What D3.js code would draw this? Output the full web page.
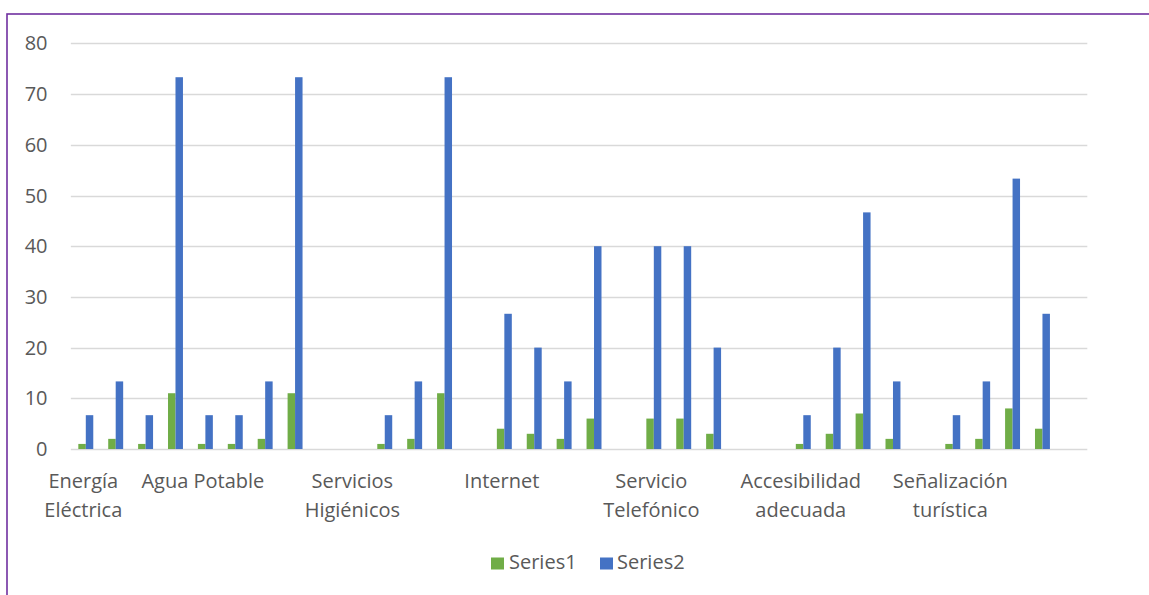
<!DOCTYPE html>
<html>
<head>
<meta charset="utf-8">
<script src="https://cdn.jsdelivr.net/npm/d3@7"></script>
<style>
  html, body { margin: 0; padding: 0; background: #fff; }
  svg { display: block; }
  text { font-family: "Open Sans", "Liberation Sans", sans-serif; }
</style>
</head>
<body>
<svg id="chart" width="1149" height="595"></svg>
<script>
// ---- data ----
// one label per group of slots; "" = unlabeled slot, "\n" = line break
const categories = [
  "Energía\nEléctrica", "", "", "",
  "Agua Potable", "", "", "", "",
  "Servicios\nHigiénicos", "", "", "", "",
  "Internet", "", "", "", "",
  "Servicio\nTelefónico", "", "", "", "",
  "Accesibilidad\nadecuada", "", "", "", "",
  "Señalización\nturística", "", "", "", ""
];
const series1 = [1, 2, 1, 11, 1, 1, 2, 11, null, null, 1, 2, 11, null, 4, 3, 2, 6, null, 6, 6, 3, null, null, 1, 3, 7, 2, null, 1, 2, 8, 4, null];
const series2 = [6.67, 13.33, 6.67, 73.33, 6.67, 6.67, 13.33, 73.33, null, null, 6.67, 13.33, 73.33, null, 26.67, 20, 13.33, 40, null, 40, 40, 20, null, null, 6.67, 20, 46.67, 13.33, null, 6.67, 13.33, 53.33, 26.67, null];
const seriesNames = ["Series1", "Series2"];
const yTicks = [0, 10, 20, 30, 40, 50, 60, 70, 80];

// ---- styles ----
const colors = ["#70AD47", "#4472C4"];
const textColor = "#595959";
const gridColor = "#D9D9D9";

const svg = d3.select("#chart");

// chart frame (purple border, top and left visible)
svg.append("rect")
  .attr("x", 7).attr("y", 14)
  .attr("width", 1200).attr("height", 700)
  .attr("fill", "none")
  .attr("stroke", "#7030A0")
  .attr("stroke-width", 1.6);

const x = d3.scaleBand()
  .domain(d3.range(categories.length))
  .range([70.85, 1087.3])
  .paddingInner(0).paddingOuter(0);

const y = d3.scaleLinear().domain([0, 80]).range([449, 43.4]);

// gridlines
svg.append("g")
  .selectAll("line")
  .data(yTicks)
  .join("line")
  .attr("x1", x.range()[0]).attr("x2", x.range()[1])
  .attr("y1", d => Math.round(y(d)) + 0.5)
  .attr("y2", d => Math.round(y(d)) + 0.5)
  .attr("stroke", gridColor)
  .attr("stroke-width", 1.3);

// y axis labels
svg.append("g")
  .selectAll("text")
  .data(yTicks)
  .join("text")
  .attr("x", 47.5)
  .attr("y", d => y(d) + 7)
  .attr("text-anchor", "end")
  .attr("font-size", 20)
  .attr("fill", textColor)
  .text(d => d);

// bars
const bw = x.bandwidth();
const allSeries = [series1, series2];
allSeries.forEach((vals, si) => {
  svg.append("g")
    .selectAll("rect")
    .data(vals.map((v, i) => ({ v, i })).filter(d => d.v !== null))
    .join("rect")
    .attr("x", d => x(d.i) + bw * 0.25 + si * bw * 0.25)
    .attr("width", bw * 0.25)
    .attr("y", d => y(d.v))
    .attr("height", d => y(0) - y(d.v))
    .attr("fill", colors[si]);
});

// category labels
const labelG = svg.append("g");
categories.forEach((c, i) => {
  if (!c) return;
  const lines = c.split("\n");
  const t = labelG.append("text")
    .attr("text-anchor", "middle")
    .attr("font-size", 20)
    .attr("fill", textColor);
  lines.forEach((ln, k) => {
    t.append("tspan")
      .attr("x", x(i) + bw / 2 - 2.5)
      .attr("y", 487.5 + k * 29.4)
      .text(ln);
  });
});

// legend
const legendItems = [
  { name: seriesNames[0], color: colors[0], sx: 491, tx: 509 },
  { name: seriesNames[1], color: colors[1], sx: 600, tx: 617 }
];
const lg = svg.append("g");
legendItems.forEach(d => {
  lg.append("rect")
    .attr("x", d.sx).attr("y", 557.5)
    .attr("width", 13).attr("height", 12)
    .attr("fill", d.color);
  lg.append("text")
    .attr("x", d.tx).attr("y", 569.3)
    .attr("font-size", 20)
    .attr("fill", textColor)
    .text(d.name);
});
</script>
</body>
</html>
